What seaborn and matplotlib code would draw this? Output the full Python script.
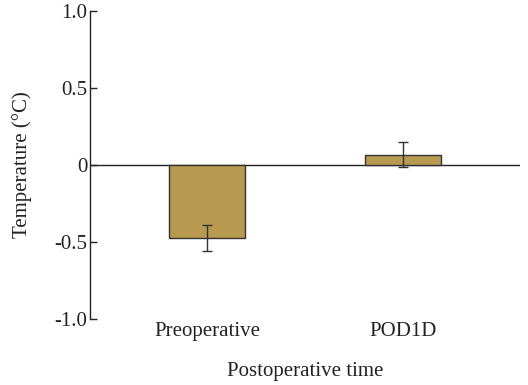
import matplotlib
matplotlib.use("Agg")
import matplotlib.pyplot as plt
import seaborn as sns
import pandas as pd

# values
categories = ["Preoperative", "POD1D"]
means = [-0.474, 0.068]
errors = [0.085, 0.08]

df = pd.DataFrame({"time": categories, "temp": means})

sns.set_style("ticks")
plt.rcParams["font.family"] = ["Liberation Serif", "DejaVu Serif"]

fig = plt.figure(figsize=(5.28, 3.85), dpi=100)
ax = fig.add_axes([0.1705, 0.1714, 0.8145, 0.8])

sns.barplot(data=df, x="time", y="temp", color="#B79A50", width=0.39,
            edgecolor="#333333", linewidth=1.0, saturation=1, errorbar=None, ax=ax)
ax.errorbar(range(len(categories)), means, yerr=errors, fmt="none",
            ecolor="#333333", elinewidth=1.0, capsize=3.5, capthick=1.0)
ax.axhline(0, color="#222222", linewidth=1.0, zorder=0.5)

ax.set_xlim(-0.6, 1.6)
ax.set_ylim(-1.0, 1.0)
ax.set_yticks([-1.0, -0.5, 0, 0.5, 1.0])
ax.set_yticklabels(["-1.0", "-0.5", "0", "0.5", "1.0"], fontsize=15)
ax.tick_params(axis="y", direction="in", length=5, width=1.0, pad=2, colors="#222222")
ax.tick_params(axis="x", length=0, pad=2, labelsize=15, colors="#222222")
for s in ["top", "right", "bottom"]:
    ax.spines[s].set_visible(False)
ax.spines["left"].set_linewidth(1.0)
ax.spines["left"].set_color("#222222")

ax.set_xlabel("Postoperative time", fontsize=15, labelpad=15, color="#222222")
ax.set_ylabel("Temperature (°C)", fontsize=15, labelpad=16, color="#222222")

fig.savefig("out.png", dpi=100)
